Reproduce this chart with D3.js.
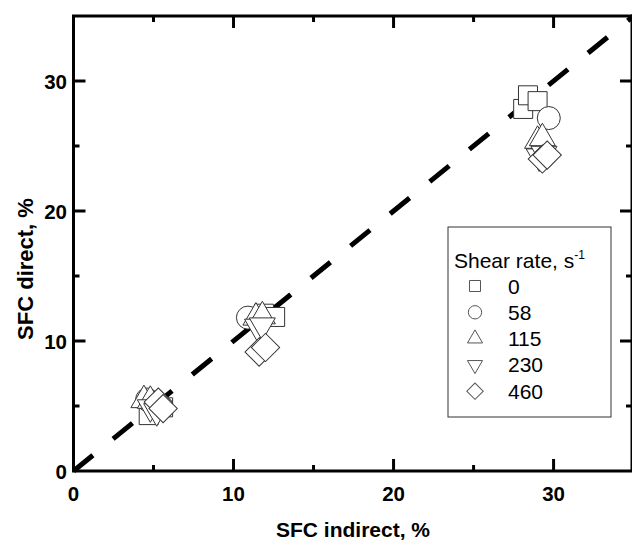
<!DOCTYPE html>
<html>
<head>
<meta charset="utf-8">
<script src="https://cdn.jsdelivr.net/npm/d3@7"></script>
<style>
  body { margin: 0; background: #fff; }
  text { font-family: "Liberation Sans", Arial, sans-serif; }
</style>
</head>
<body>
<div id="chart"></div>
<script>
var W = 632, H = 543;

// shear rate series, each point is [SFC indirect, SFC direct]
var series = ["0", "58", "115", "230", "460"];
var shapes = ["square", "circle", "up", "down", "diamond"];
var pts0   = [[4.7, 4.3], [5.6, 4.9], [11.9, 12.1], [12.6, 11.85], [28.1, 27.85], [28.4, 28.9], [29.0, 28.45]];
var pts58  = [[4.6, 5.5], [10.9, 11.8], [29.7, 27.15]];
var pts115 = [[4.4, 5.45], [4.8, 5.4], [11.4, 11.8], [11.8, 11.9], [29.0, 25.4], [29.3, 25.6]];
var pts230 = [[4.8, 4.9], [5.2, 4.6], [11.5, 11.1], [11.8, 11.2], [29.1, 24.2], [29.4, 24.4]];
var pts460 = [[5.3, 5.3], [5.6, 4.8], [11.6, 9.15], [12.0, 9.5], [29.3, 24.0], [29.6, 24.3]];
var allPts = [pts0, pts58, pts115, pts230, pts460];

var xTicks = [0, 10, 20, 30], yTicks = [0, 10, 20, 30];
var xMinor = [5, 15, 25], yMinor = [5, 15, 25];

var svg = d3.select("#chart").append("svg")
    .attr("width", W).attr("height", H);

var x = d3.scaleLinear().domain([0, 34.9]).range([73.5, 632]);
var y = d3.scaleLinear().domain([0, 35]).range([471, 16]);

function symPath(shape, big) {
  var k = big ? 1 : 0.58;
  if (shape == "square") return d3.symbol(d3.symbolSquare, 19 * 19 * k * k)();
  if (shape == "circle") return d3.symbol(d3.symbolCircle, Math.PI * 11.5 * 11.5 * k * k)();
  if (shape == "up" || shape == "down") return d3.symbol(d3.symbolTriangle, Math.sqrt(3) / 4 * 26 * 26 * k * k)();
  return d3.symbol(d3.symbolSquare, 20 * 20 * k * k)();
}
function symRot(shape) {
  if (shape == "down") return " rotate(180)";
  if (shape == "diamond") return " rotate(45)";
  return "";
}

// diagonal y = x
svg.append("line")
    .attr("x1", x(0)).attr("y1", y(0))
    .attr("x2", x(35)).attr("y2", y(35))
    .attr("stroke", "#000").attr("stroke-width", 5)
    .attr("stroke-dasharray", "25,26");

// data markers
allPts.forEach(function(pts, i) {
  svg.append("g").selectAll("path").data(pts).enter().append("path")
      .attr("d", symPath(shapes[i], true))
      .attr("transform", function(d) { return "translate(" + x(d[0]) + "," + y(d[1]) + ")" + symRot(shapes[i]); })
      .attr("fill", "#fff").attr("stroke", "#333").attr("stroke-width", 1);
});

// frame
svg.append("rect")
    .attr("x", x(0)).attr("y", y(35))
    .attr("width", x(34.9) - x(0)).attr("height", y(0) - y(35))
    .attr("fill", "none").attr("stroke", "#000").attr("stroke-width", 3);

// ticks (inward, all four sides)
function ticksX(vals, len) {
  vals.forEach(function(v) {
    svg.append("line").attr("x1", x(v)).attr("x2", x(v)).attr("y1", y(0)).attr("y2", y(0) - len)
        .attr("stroke", "#000").attr("stroke-width", 3);
    svg.append("line").attr("x1", x(v)).attr("x2", x(v)).attr("y1", y(35)).attr("y2", y(35) + len)
        .attr("stroke", "#000").attr("stroke-width", 3);
  });
}
function ticksY(vals, len) {
  vals.forEach(function(v) {
    svg.append("line").attr("y1", y(v)).attr("y2", y(v)).attr("x1", x(0)).attr("x2", x(0) + len)
        .attr("stroke", "#000").attr("stroke-width", 3);
    svg.append("line").attr("y1", y(v)).attr("y2", y(v)).attr("x1", x(34.9)).attr("x2", x(34.9) - len)
        .attr("stroke", "#000").attr("stroke-width", 3);
  });
}
ticksX(xTicks.slice(1), 12); ticksX(xMinor, 6);
ticksY(yTicks.slice(1), 12); ticksY(yMinor, 6);

// tick labels
svg.append("g").selectAll("text").data(xTicks).enter().append("text")
    .attr("x", function(d) { return x(d); }).attr("y", 501)
    .attr("text-anchor", "middle").attr("font-size", 20.5).attr("font-weight", "bold")
    .text(function(d) { return d; });
svg.append("g").selectAll("text").data(yTicks).enter().append("text")
    .attr("x", 67).attr("y", function(d) { return y(d) + 7.5; })
    .attr("text-anchor", "end").attr("font-size", 20.5).attr("font-weight", "bold")
    .text(function(d) { return d; });

// axis titles
svg.append("text").attr("x", 353).attr("y", 537)
    .attr("text-anchor", "middle").attr("font-size", 21).attr("font-weight", "bold")
    .text("SFC indirect, %");
svg.append("text").attr("transform", "translate(33,269) rotate(-90)")
    .attr("text-anchor", "middle").attr("font-size", 22).attr("font-weight", "bold")
    .text("SFC direct, %");

// legend
var lg = svg.append("g");
lg.append("rect").attr("x", 448).attr("y", 227).attr("width", 163).attr("height", 190)
    .attr("fill", "#fff").attr("stroke", "#333").attr("stroke-width", 1);
var title = lg.append("text").attr("x", 454).attr("y", 268).attr("font-size", 21);
title.append("tspan").text("Shear rate, s");
title.append("tspan").attr("font-size", 12).attr("dy", -9).text("-1");
series.forEach(function(s, i) {
  var cy = 286 + i * 26.3;
  lg.append("path").attr("d", symPath(shapes[i], false))
      .attr("transform", "translate(475," + cy + ")" + symRot(shapes[i]))
      .attr("fill", "#fff").attr("stroke", "#555").attr("stroke-width", 1);
  lg.append("text").attr("x", 508).attr("y", cy + 7.5).attr("font-size", 21).text(s);
});
</script>
</body>
</html>
